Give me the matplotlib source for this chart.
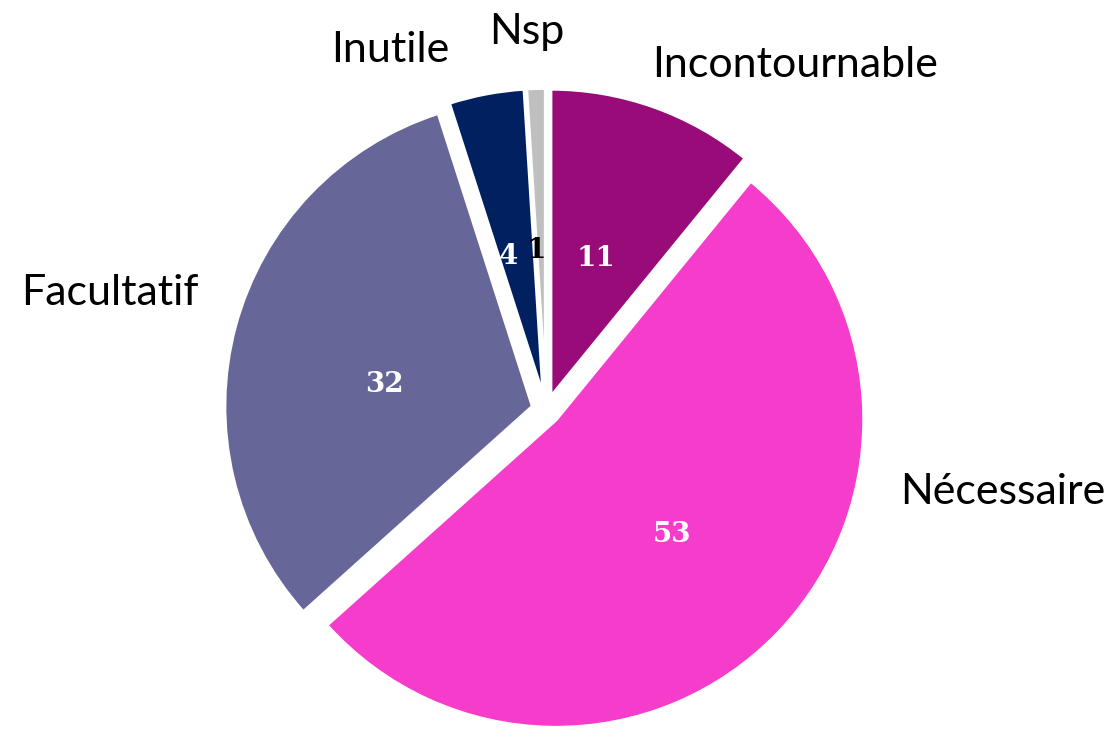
import matplotlib.pyplot as plt
import numpy as np

# donnees
categories = ['Incontournable', 'Nécessaire', 'Facultatif', 'Inutile', 'Nsp']
valeurs = [11, 53, 32, 4, 1]
couleurs = ['#990B79', '#F53CCB', '#666699', '#002060', '#BFBFBF']
couleurs_val = ['white', 'white', 'white', 'white', 'black']

W, H = 1113, 739
cx, cy, R = 546, 410, 308

fig = plt.figure(figsize=(W / 100, H / 100), dpi=100)
ax = fig.add_axes([0, 0, 1, 1])

wedges, _ = ax.pie(valeurs, startangle=90, counterclock=False, colors=couleurs,
                   explode=[0.045] * len(valeurs),
                   wedgeprops=dict(edgecolor='white', linewidth=2.5))

# 1 unite = R pixels
ax.set_xlim(-cx / R, (W - cx) / R)
ax.set_ylim(-(H - cy) / R, cy / R)
ax.set_aspect('auto')
ax.axis('off')


def px(x, y):
    return (x - cx) / R, (cy - y) / R


# position des etiquettes (pixels)
pos_cat = [(795, 65), (1003, 492), (110, 293), (390, 50), (527, 32)]
pos_val = [(596, 259), (672, 535), (384, 384), (508, 257), (536, 250)]

for nom, (x, y) in zip(categories, pos_cat):
    ax.text(*px(x, y), nom, ha='center', va='center', fontsize=31,
            family='Lato', color='black')

for v, c, (x, y) in zip(valeurs, couleurs_val, pos_val):
    ax.text(*px(x, y), str(v), ha='center', va='center', fontsize=20,
            family='DejaVu Serif', weight='bold', color=c)

fig.savefig('out.png', dpi=100)
